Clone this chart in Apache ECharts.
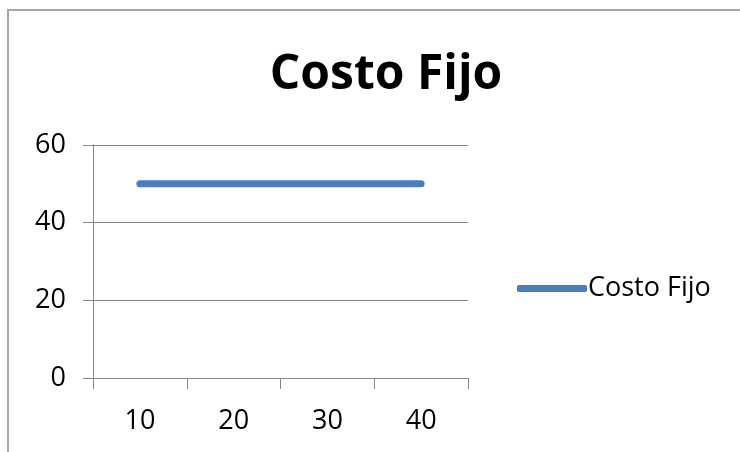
<!DOCTYPE html>
<html>
<head>
<meta charset="utf-8">
<script src="https://cdn.jsdelivr.net/npm/echarts@6/dist/echarts.min.js"></script>
<style>
    html, body { margin: 0; padding: 0; background: #fff; }
    #chart { width: 740px; height: 452px; }
</style>
</head>
<body>
<div id="chart"></div>
<script>
// datos del grafico
const categories = ['10', '20', '30', '40']
const costoFijo = [50, 50, 50, 50]
const yTicks = [0, 20, 40, 60]

const myChart = echarts.init(document.getElementById('chart'))
const font = '"Open Sans", Lato, sans-serif'
const gray = '#868686'

const option = {
    backgroundColor: '#fff',
    animation: false,
    // marco del grafico (borde gris arriba e izquierda)
    graphic: [{
        type: 'rect',
        shape: { x: 8, y: 10, width: 900, height: 600 },
        style: { fill: 'none', stroke: '#a6a6a6', lineWidth: 2 },
        silent: true
    }],
    title: {
        text: 'Costo Fijo',
        left: 381,
        top: 46,
        textAlign: 'center',
        textStyle: { fontFamily: font, fontSize: 48, fontWeight: 'bold', color: '#000' }
    },
    legend: {
        data: ['Costo Fijo'],
        left: 512,
        top: 270,
        icon: 'roundRect',
        itemWidth: 70,
        itemHeight: 7,
        itemGap: 0,
        textStyle: { fontFamily: font, fontSize: 27, color: '#000', padding: [0, 0, 0, -4] }
    },
    grid: { left: 93, right: 272, top: 145, bottom: 74 },
    xAxis: {
        type: 'category',
        data: categories,
        boundaryGap: true,
        axisLine: { lineStyle: { color: gray, width: 1 } },
        axisTick: { show: true, length: 11, lineStyle: { color: gray } },
        axisLabel: { fontFamily: font, fontSize: 27, color: '#000', margin: 30 }
    },
    yAxis: {
        type: 'value',
        min: yTicks[0],
        max: yTicks[yTicks.length - 1],
        interval: yTicks[1] - yTicks[0],
        axisLine: { show: true, lineStyle: { color: gray, width: 1 } },
        axisTick: { show: true, length: 10, lineStyle: { color: gray } },
        splitLine: { lineStyle: { color: gray, width: 1 } },
        axisLabel: { fontFamily: font, fontSize: 27, color: '#000', margin: 27 }
    },
    series: [{
        name: 'Costo Fijo',
        type: 'line',
        data: costoFijo,
        showSymbol: false,
        symbol: 'none',
        lineStyle: { color: '#4a7ebb', width: 7, cap: 'round' },
        itemStyle: { color: '#4a7ebb' }
    }]
}

myChart.setOption(option)
</script>
</body>
</html>
